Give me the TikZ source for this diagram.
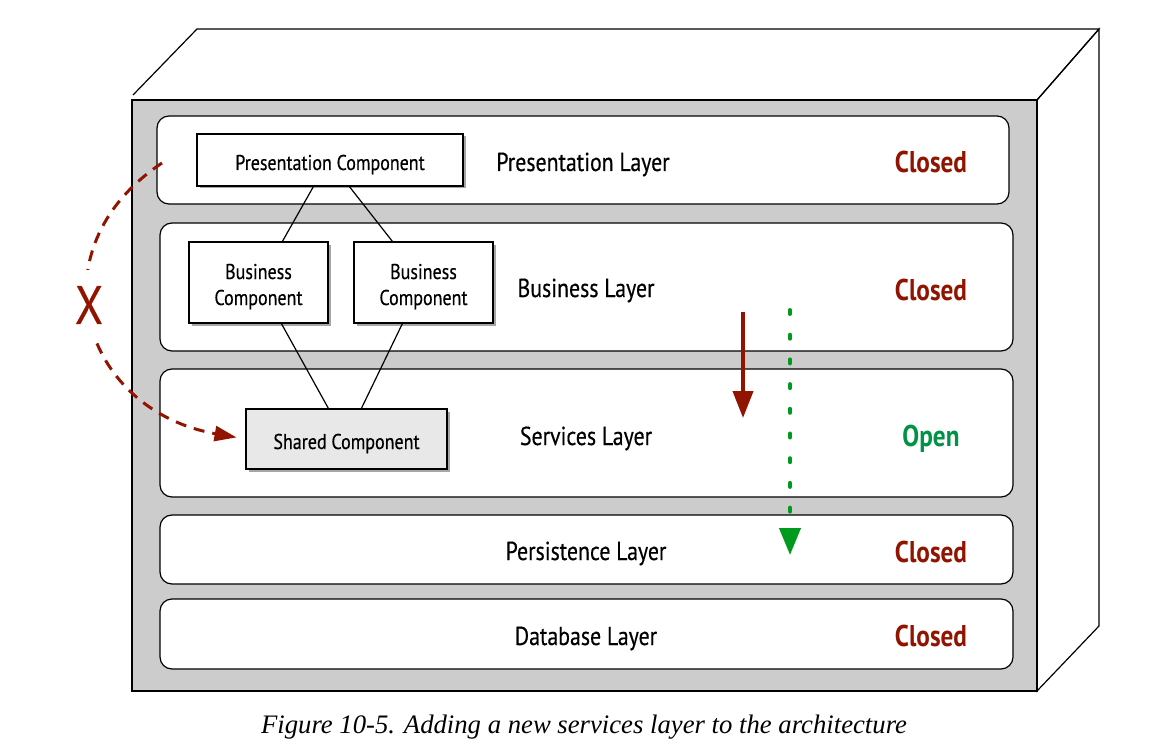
\documentclass[tikz,border=0pt]{standalone}
\usepackage{fontspec}
\setmainfont{PT Sans}
\newfontfamily\uifont{PT Sans}[FakeStretch=0.84, FakeBold=0.4]
\newfontfamily\uifontb{PT Sans Bold}[FakeStretch=0.84]
\newfontfamily\capfont{Liberation Serif}
\usetikzlibrary{arrows.meta,shadows,calc}
\definecolor{facegray}{RGB}{204,204,204}
\definecolor{sharedgray}{RGB}{232,232,232}
\definecolor{closedred}{RGB}{145,20,0}
\definecolor{openGreen}{RGB}{0,146,69}
\definecolor{arrowGreen}{RGB}{0,155,30}
\tikzset{
  edge/.style={line width=1.2pt, line join=miter},
  layerbox/.style={draw, fill=white, rounded corners=12pt, line width=1.2pt, inner sep=0pt, anchor=center},
  compbox/.style={draw, fill=white, line width=1.2pt, inner sep=0pt,
    drop shadow={shadow xshift=2.5pt, shadow yshift=-2.5pt, opacity=0.35, fill=black}},
  comptext/.style={anchor=base, inner sep=0pt, align=center, font=\uifont\fontsize{21.4}{26}\selectfont},
  lname/.style={anchor=base, inner sep=0pt, font=\uifont\fontsize{26}{30}\selectfont},
  stateclosed/.style={anchor=base, inner sep=0pt, text=closedred, font=\uifontb\fontsize{30}{34}\selectfont},
  stateopen/.style={anchor=base, inner sep=0pt, text=openGreen, font=\uifontb\fontsize{30}{34}\selectfont},
  conn/.style={line width=1.2pt},
}
\begin{document}
\begin{tikzpicture}[x=1pt, y=-1pt]
\useasboundingbox (0,0) rectangle (1159,754);
% box outline: top and right faces
\coordinate (ftl) at (132,100);
\coordinate (ftr) at (1037,100);
\coordinate (fbr) at (1037,691);
\coordinate (btl) at (197,29);
\coordinate (btr) at (1099,29);
\coordinate (bbr) at (1099,626);
\coordinate (tls) at (133,95);
\draw[edge, fill=white] (ftr) -- (btr) -- (bbr) -- (fbr) -- cycle;
\draw[edge] (tls) -- (btl) -- (btr) -- (ftr);
\draw[edge, fill=facegray] (132,100) rectangle (1037,691);
% layers
\node[layerbox, minimum width=852pt, minimum height=88pt] (lp) at (583,160) {};
\node[layerbox, minimum width=853pt, minimum height=128pt] (lb) at (586.5,287) {};
\node[layerbox, minimum width=853pt, minimum height=128pt] (ls) at (586.5,433) {};
\node[layerbox, minimum width=853pt, minimum height=69pt] (lper) at (586.5,549.5) {};
\node[layerbox, minimum width=853pt, minimum height=70pt] (ldb) at (586.5,634) {};
% layer names
\node[lname] (tp) at (583,171) {Presentation Layer};
\node[lname] (tb) at (586,297) {Business Layer};
\node[lname] (ts) at (586,445) {Services Layer};
\node[lname] (tper) at (586,560) {Persistence Layer};
\node[lname] (tdb) at (586,645) {Database Layer};
% states
\node[stateclosed] (sp) at (931,173) {Closed};
\node[stateclosed] (sb) at (931,300) {Closed};
\node[stateopen] (ss) at (931,446) {Open};
\node[stateclosed] (sper) at (931,562) {Closed};
\node[stateclosed] (sdb) at (931,646) {Closed};
% components
\node[compbox, minimum width=266pt, minimum height=52pt] (pc) at (330,160) {};
\node[compbox, minimum width=139pt, minimum height=81pt] (bc1) at (258.5,282.5) {};
\node[compbox, minimum width=139pt, minimum height=81pt] (bc2) at (423.5,282.5) {};
\node[compbox, fill=sharedgray, minimum width=201pt, minimum height=60pt] (sc) at (346.5,439) {};
\node[comptext] (pct) at (330,170) {Presentation Component};
\node[comptext] (bc1t) at (258.5,305) {Business\\Component};
\node[comptext] (bc2t) at (423.5,305) {Business\\Component};
\node[comptext] (sct) at (346.5,449) {Shared Component};
% component links
\draw[conn] ($(pc.south west)+(117,0)$) -- ($(bc1.north west)+(94,0)$);
\draw[conn] ($(pc.south west)+(153,0)$) -- ($(bc2.north west)+(39,0)$);
\draw[conn] ($(bc1.south west)+(93,0)$) -- ($(sc.north west)+(83,0)$);
\draw[conn] ($(bc2.south west)+(49,0)$) -- ($(sc.north west)+(116,0)$);
% bypass arrow (forbidden)
\coordinate (cstart) at (162,163);
\draw[closedred, line width=3pt, dash pattern=on 11pt off 8pt, shorten >=9pt,
  -{Triangle[length=22pt, width=15pt]}]
  (cstart) .. controls (32,250) and (82,410) .. (sc.west);
\node[text=closedred, fill=white, font=\uifont\fontsize{54}{56}\selectfont, inner xsep=4pt, inner ysep=16pt] (xmark) at (89,305) {X};
% request arrows
\coordinate (ra1) at (743,312);
\coordinate (ra2) at (743,418);
\draw[closedred, line width=4pt, -{Triangle[length=27pt, width=20pt]}] (ra1) -- (ra2);
\coordinate (ga1) at (790,310);
\coordinate (ga2) at (790,555);
\draw[arrowGreen, line width=4pt, line cap=round, dash pattern=on 4pt off 20.7pt,
  -{Triangle[length=27pt, width=21pt]}] (ga1) -- (ga2);
% caption
\node[font=\capfont\itshape\fontsize{26.7}{30}\selectfont, anchor=base, inner sep=0pt] (cap) at (584,733) {Figure 10-5. Adding a new services layer to the architecture};
\end{tikzpicture}
\end{document}
